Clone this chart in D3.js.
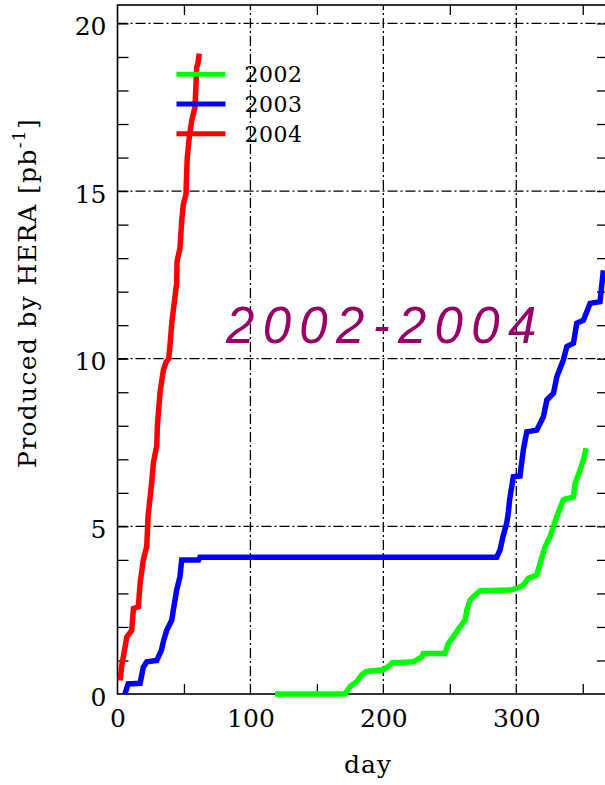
<!DOCTYPE html>
<html>
<head>
<meta charset="utf-8">
<script src="https://cdn.jsdelivr.net/npm/d3@7"></script>
<style>
  body { margin: 0; background: #fff; }
</style>
</head>
<body>
<div class="vis-holder"></div>
<script>
// integrated luminosity per year, [day, pb^-1]
var lumi2002 = [[118.5,0],[171,0],[175,0.22],[180,0.37],[183.7,0.57],[187.5,0.67],[200,0.72],[205,0.86],[206.3,0.93],
  [222.6,0.96],[229,1.11],[230,1.21],[246.4,1.21],[249,1.51],[252.7,1.71],[257.7,2.0],[261.5,2.2],[262.8,2.5],
  [265.2,2.8],[267.7,2.9],[272.8,3.08],[295.3,3.1],[300.4,3.15],[305.3,3.25],[309,3.45],[315.4,3.55],[317.9,3.9],
  [321.7,4.39],[325.4,4.69],[328,5.0],[330.5,5.29],[335.4,5.79],[343,5.88],[344.3,6.28],[348,6.68],[350.5,6.98],[352.5,7.33]];
var lumi2003 = [[5.6,0],[8,0.3],[17,0.32],[19.4,0.8],[22,0.96],[29.5,1.0],[33,1.3],[34.5,1.56],[37,1.9],[40.8,2.2],
  [42,2.5],[44.5,3.1],[47,3.5],[48.3,4.0],[61,4.0],[62,4.08],[285.3,4.08],[287.8,4.3],[290,4.7],[292.8,5.1],[294,5.4],
  [295,5.8],[297.8,6.48],[302.8,6.5],[305.3,7.28],[307.9,7.82],[315.4,7.87],[320.4,8.27],[323,8.77],[328,8.97],
  [330.5,9.46],[335.4,9.96],[338,10.36],[343,10.46],[345.5,11.06],[350.5,11.15],[355.5,11.65],[363,11.7],[365.5,12.64]];
var lumi2004 = [[2,0.4],[3,0.8],[7,1.7],[10.7,1.9],[12,2.55],[15.7,2.6],[17,3.3],[19.4,4.0],[22,4.4],[23,5.3],
  [25.7,6.3],[27,6.9],[29.5,7.4],[30,8.0],[32,9.0],[34.5,9.65],[36.5,9.9],[38.5,10.0],[39.5,10.4],[40.8,11.05],
  [42,11.45],[44.5,12.25],[44.8,12.9],[47,13.3],[48.3,14.1],[49.5,14.6],[51.5,14.9],[52,15.5],[52.5,16.0],[54,16.6],
  [55.8,17.1],[58.3,17.5],[59.6,18.7],[60.5,18.8],[61.5,19.1]];

var years = ["2002", "2003", "2004"];
var colors = ["#00ff00", "#0000ff", "#ff0000"];
var series = [lumi2002, lumi2003, lumi2004];

var xMajor = [0, 100, 200, 300];
var xMinor = [50, 150, 250, 350];
var yMajor = [0, 5, 10, 15, 20];
var yMinor = d3.range(1, 21);
var xTitle = "day";
var yTitle = "Produced by HERA [pb";
var bigLabel = "2002-2004";

var serif = "DejaVu Serif";
var width = 605;
var height = 785;

var svg = d3.select(".vis-holder")
            .append("svg")
            .attr("width", width)
            .attr("height", height);

svg.append("rect").attr("width", width).attr("height", height).attr("fill", "#fff");

// stretch a text's letter spacing so it spans the wanted width
function fitWidth(sel, target) {
  var len = sel.node().getComputedTextLength();
  var n = sel.text().length;
  sel.attr("letter-spacing", (target - len) / n);
}

// the frame runs a little past the right edge of the picture
var xScale = d3.scaleLinear().domain([0, 369]).range([117.5, 608]);
var yScale = d3.scaleLinear().domain([0, 20.55]).range([694, 5]);

var x0 = xScale.range()[0], x1 = xScale.range()[1];
var y0 = yScale.range()[0], y1 = yScale.range()[1];

// dash-dot grid
var grid = svg.append("g")
              .attr("stroke", "#000")
              .attr("stroke-width", 1.3)
              .attr("stroke-dasharray", "10,3,2,3");
grid.selectAll("line.h")
    .data(yMajor.slice(1))
    .enter().append("line")
    .attr("x1", x0).attr("x2", x1)
    .attr("y1", function(d) { return yScale(d); })
    .attr("y2", function(d) { return yScale(d); });
grid.selectAll("line.v")
    .data(xMajor.slice(1))
    .enter().append("line")
    .attr("y1", y0).attr("y2", y1)
    .attr("x1", function(d) { return xScale(d); })
    .attr("x2", function(d) { return xScale(d); });

// minor ticks on all four sides
function minor(g) {
  g.select(".domain").remove();
  g.selectAll(".tick line").attr("stroke", "#000").attr("stroke-width", 1.3);
}
svg.append("g").attr("transform", "translate(" + x0 + ",0)")
   .call(d3.axisRight(yScale).tickValues(yMinor).tickSize(11).tickFormat("")).call(minor);
svg.append("g").attr("transform", "translate(" + x1 + ",0)")
   .call(d3.axisLeft(yScale).tickValues(yMinor).tickSize(11).tickFormat("")).call(minor);
svg.append("g").attr("transform", "translate(0," + y0 + ")")
   .call(d3.axisTop(xScale).tickValues(xMinor).tickSize(10).tickFormat("")).call(minor);
svg.append("g").attr("transform", "translate(0," + y1 + ")")
   .call(d3.axisBottom(xScale).tickValues(xMinor).tickSize(10).tickFormat("")).call(minor);

// frame
svg.append("rect")
   .attr("x", x0).attr("y", y1)
   .attr("width", x1 - x0).attr("height", y0 - y1)
   .attr("fill", "none").attr("stroke", "#000").attr("stroke-width", 1.6);

// tick labels
var yAxis = svg.append("g")
               .attr("transform", "translate(" + x0 + ",0)")
               .call(d3.axisLeft(yScale).tickValues(yMajor).tickSize(0).tickPadding(11).tickFormat(d3.format("d")));
yAxis.attr("font-family", serif);
yAxis.select(".domain").remove();
yAxis.selectAll("text").attr("font-size", 25).attr("dy", "0.44em").attr("fill", "#000");

var xAxis = svg.append("g")
               .attr("transform", "translate(0," + y0 + ")")
               .call(d3.axisBottom(xScale).tickValues(xMajor).tickSize(0).tickPadding(15).tickFormat(d3.format("d")));
xAxis.attr("font-family", serif);
xAxis.select(".domain").remove();
xAxis.selectAll("text").attr("font-size", 25).attr("fill", "#000");

// the curves
var line = d3.line()
             .x(function(d) { return xScale(d[0]); })
             .y(function(d) { return yScale(d[1]); });

svg.append("g")
   .selectAll("path")
   .data(series)
   .enter().append("path")
   .attr("d", line)
   .attr("fill", "none")
   .attr("stroke", function(d, i) { return colors[i]; })
   .attr("stroke-width", 5.5)
   .attr("stroke-linejoin", "miter");

// legend
var legend = svg.append("g")
                .selectAll("g")
                .data(years)
                .enter().append("g")
                .attr("transform", function(d, i) { return "translate(176.5," + (74.3 + i * 29.7) + ")"; });
legend.append("line")
      .attr("x1", 0).attr("x2", 49)
      .attr("stroke", function(d, i) { return colors[i]; })
      .attr("stroke-width", 5);
legend.append("text")
      .attr("font-family", serif)
      .attr("x", 68).attr("dy", "0.36em")
      .attr("font-size", 22)
      .text(function(d) { return d; })
      .each(function() { fitWidth(d3.select(this), 58); });

// axis titles
svg.append("text")
   .attr("font-family", serif)
   .attr("x", 344).attr("y", 773)
   .attr("font-size", 25)
   .text(xTitle)
   .call(fitWidth, 48);

var yLabel = svg.append("text")
                .attr("font-family", serif)
                .attr("transform", "translate(36,468)rotate(-90)")
                .attr("font-size", 25);
yLabel.append("tspan").text(yTitle);
yLabel.append("tspan").attr("dy", -11).attr("font-size", 17).text("-1");
yLabel.append("tspan").attr("dy", 11).text("]");
fitWidth(yLabel, 350);

// big label across the plot
svg.append("text")
   .attr("x", 226).attr("y", 343)
   .attr("font-family", "Liberation Sans")
   .attr("font-style", "italic")
   .attr("font-size", 51)
   .attr("letter-spacing", 8.3)
   .attr("fill", "#960068")
   .text(bigLabel);
</script>
</body>
</html>
